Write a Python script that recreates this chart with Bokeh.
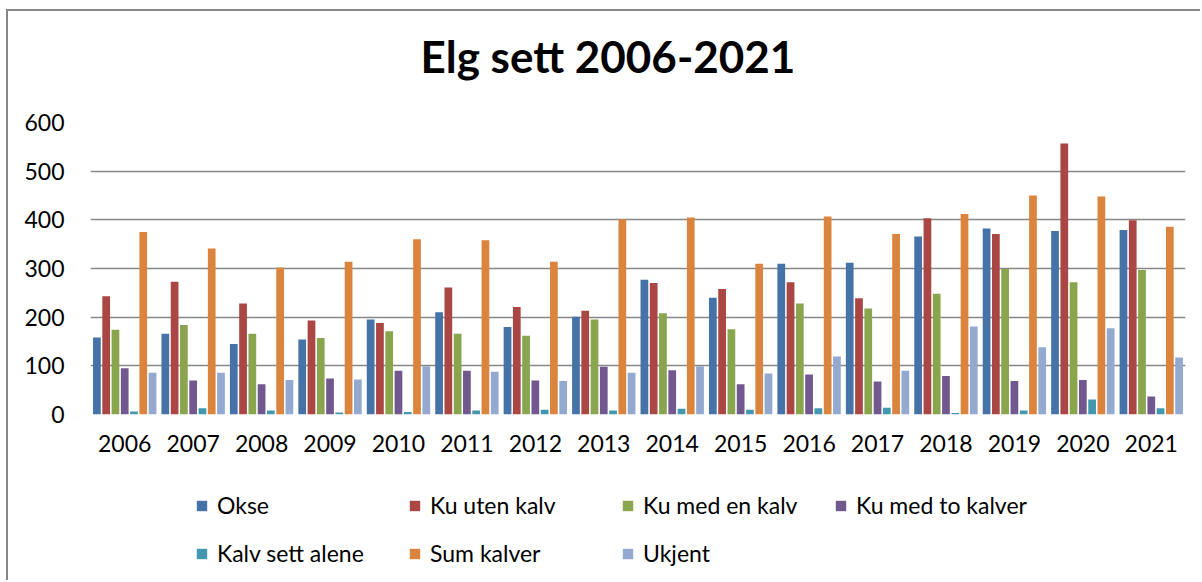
from bokeh.plotting import figure
from bokeh.layouts import column
from bokeh.models import (ColumnDataSource, FactorRange, Range1d, FixedTicker, Legend, LegendItem,
                          LinearAxis)
from bokeh.transform import dodge
from bokeh.embed import file_html
from bokeh.resources import INLINE

years = [str(y) for y in range(2006, 2022)]
okse = [158, 166, 145, 154, 195, 210, 180, 201, 277, 240, 310, 312, 366, 382, 377, 379]
ku_uten_kalv = [243, 273, 228, 193, 188, 261, 221, 213, 270, 258, 272, 239, 403, 371, 557, 399]
ku_med_en_kalv = [174, 184, 166, 157, 171, 166, 162, 195, 208, 175, 228, 218, 248, 299, 272, 297]
ku_med_to_kalver = [95, 70, 62, 74, 90, 90, 70, 98, 91, 62, 82, 68, 79, 69, 71, 37]
kalv_sett_alene = [6, 13, 8, 4, 5, 8, 10, 8, 12, 10, 13, 14, 3, 8, 31, 13]
sum_kalver = [375, 341, 302, 314, 360, 358, 314, 401, 405, 310, 407, 371, 412, 450, 448, 386]
ukjent = [86, 86, 71, 72, 99, 88, 69, 86, 99, 84, 119, 90, 181, 138, 177, 117]

series_names = ["Okse", "Ku uten kalv", "Ku med en kalv", "Ku med to kalver",
                "Kalv sett alene", "Sum kalver", "Ukjent"]
series_cols = ["okse", "ku_uten", "ku_en", "ku_to", "kalv_alene", "sum_kalver", "ukjent"]
colors = ["#4572A7", "#AA4643", "#89A54E", "#71588F", "#4198AF", "#DB843D", "#93A9CF"]
y_ticks = [0, 100, 200, 300, 400, 500, 600]

src = ColumnDataSource(dict(year=years, okse=okse, ku_uten=ku_uten_kalv, ku_en=ku_med_en_kalv,
                            ku_to=ku_med_to_kalver, kalv_alene=kalv_sett_alene,
                            sum_kalver=sum_kalver, ukjent=ukjent))

FONT = "Lato"
p = figure(x_range=FactorRange(*years, range_padding=0), y_range=Range1d(0, 600),
           width=1192, height=464, output_backend="svg", toolbar_location=None,
           min_border_left=82, min_border_right=15, min_border_top=111, min_border_bottom=61)
p.outline_line_color = None
p.background_fill_color = "white"
p.border_fill_color = "white"

xax = p.below[0]
yax = p.left[0]

# spacer between the title and the plot area
spacer = LinearAxis(ticker=FixedTicker(ticks=[]), axis_line_color=None,
                    major_tick_line_color=None, minor_tick_line_color=None,
                    major_tick_out=0, major_tick_in=0,
                    axis_label=" ", axis_label_text_font_size="22px", axis_label_standoff=8)
p.add_layout(spacer, "above")

p.title.text = "Elg sett 2006-2021"
p.title.align = "left"
p.title.offset = 330
p.title.text_font = FONT
p.title.text_font_style = "bold"
p.title.text_font_size = "44px"
p.title.text_color = "black"
p.title.standoff = 10

for i, (col, color) in enumerate(zip(series_cols, colors)):
    p.vbar(x=dodge("year", (i - 3) * 0.1355, range=p.x_range), top=col, width=0.113,
           source=src, fill_color=color, line_color=None)

p.xgrid.visible = False
p.ygrid.ticker = FixedTicker(ticks=y_ticks)
p.ygrid.grid_line_color = "#878787"
p.ygrid.grid_line_width = 1.5

yax.ticker = FixedTicker(ticks=y_ticks)
for ax in (xax, yax):
    ax.axis_line_color = None
    ax.major_tick_line_color = None
    ax.minor_tick_line_color = None
    ax.major_tick_in = 0
    ax.major_tick_out = 0
    ax.major_label_text_font = FONT
    ax.major_label_text_font_size = "23px"
    ax.major_label_text_color = "black"
yax.major_label_standoff = 26
xax.major_label_standoff = 20

# legend strip underneath: zero-width copies of the series outside the visible y range,
# from which the legend takes its colour swatches
lf = figure(x_range=FactorRange(*years, range_padding=0), y_range=Range1d(-2, -1),
            width=1192, height=105, output_backend="svg", toolbar_location=None,
            x_axis_location=None, y_axis_location=None,
            min_border_left=0, min_border_right=0, min_border_top=0, min_border_bottom=0)
lf.outline_line_color = None
lf.grid.visible = False
lf.background_fill_color = "white"
lf.border_fill_color = "white"
swatches = [lf.vbar(x="year", top=col, width=0, source=src, fill_color=c, line_color=None)
            for col, c in zip(series_cols, colors)]
items = [LegendItem(label=n, renderers=[r]) for n, r in zip(series_names, swatches)]
for its, loc in ((items[:4], (105, 61)), (items[4:], (105, 13))):
    leg = Legend(items=its, location=loc, orientation="horizontal",
                 border_line_color=None, background_fill_alpha=0, padding=0, margin=0,
                 spacing=0, glyph_width=13, glyph_height=13, label_standoff=9,
                 label_width=191, label_height=28, label_text_font=FONT,
                 label_text_font_size="23px", label_text_color="black")
    lf.add_layout(leg, "center")

layout = column(p, lf, spacing=0)
layout.styles = {"border-left": "2px solid #878787", "border-top": "2px solid #878787",
                 "margin-left": "6px", "margin-top": "9px"}

open("out.html", "w").write(file_html(layout, INLINE))
